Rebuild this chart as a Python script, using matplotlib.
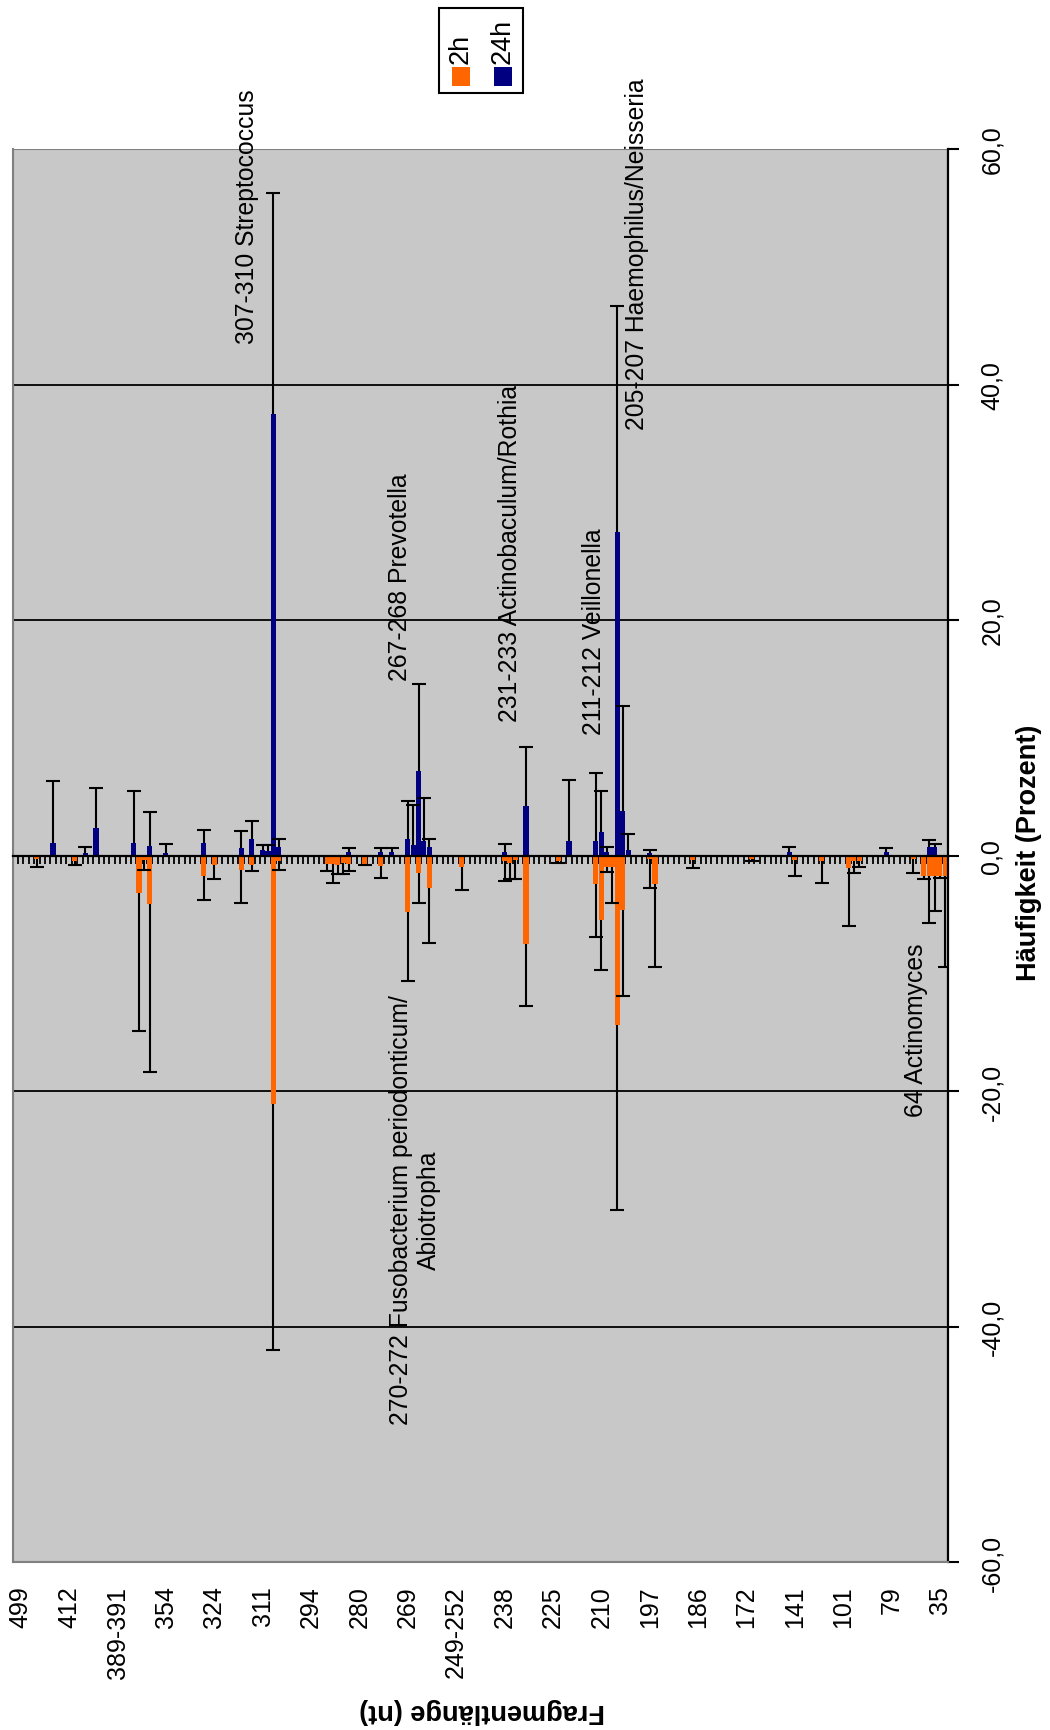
import numpy as np
import matplotlib.pyplot as plt
from matplotlib.patches import Rectangle

plt.rcParams['font.family'] = ['Liberation Sans', 'DejaVu Sans']

# categories (fragment lengths), only every 9th one is labelled
n_cat = 174
tick_idx = list(range(1, n_cat, 9))
tick_names = ['499', '412', '389-391', '354', '324', '311', '294', '280', '269', '249-252',
              '238', '225', '210', '197', '186', '172', '141', '101', '79', '35']

# 24h series: category index, value (%), upper error
idx_24h = [7, 13, 15, 22, 25, 28, 35, 42, 44, 46, 47, 48, 49, 62, 68, 70,
           73, 74, 75, 76, 77, 91, 95, 103, 108, 109, 110, 112, 113, 114,
           118, 144, 162, 170, 171]
val_24h = [1.1, 0.2, 2.3, 1.1, 0.8, 0.2, 1.1, 0.6, 1.4, 0.5, 0.4, 37.5, 0.7, 0.3, 0.3, 0.3,
           1.4, 0.9, 7.2, 1.2, 0.7, 0.3, 4.2, 1.2, 1.2, 2.0, 0.3, 27.5, 3.8, 0.5,
           0.2, 0.3, 0.3, 0.7, 0.7]
err_24h = [5.2, 0.5, 3.4, 4.4, 2.9, 0.8, 1.1, 1.5, 1.5, 0.4, 0.5, 18.8, 0.7, 0.3, 0.3, 0.3,
           3.2, 3.4, 7.4, 3.7, 0.7, 0.7, 5.0, 5.2, 5.8, 3.5, 0.4, 19.2, 8.9, 1.3,
           0.3, 0.4, 0.3, 0.6, 0.3]

# 2h series: category index, value (%, plotted negative), lower error
idx_2h = [4, 11, 23, 24, 25, 35, 37, 42, 44, 48, 49, 58, 59, 60, 61, 62, 65, 68,
          73, 75, 77, 83, 91, 92, 93, 95, 101, 108, 109, 110, 111, 112, 113,
          118, 119, 126, 137, 145, 150, 155, 156, 157, 167, 169, 170, 171, 172, 173]
val_2h = [-0.3, -0.5, -3.2, -0.4, -4.1, -1.7, -0.8, -1.2, -0.8, -21.1, -0.5, -0.7, -0.7, -0.8, -0.6, -0.7, -0.7, -0.9,
          -4.8, -1.5, -2.8, -1.0, -0.5, -0.6, -0.4, -7.5, -0.5, -2.4, -5.5, -1.0, -1.0, -14.4, -4.6,
          -0.3, -2.4, -0.4, -0.3, -0.4, -0.5, -1.1, -0.5, -0.5, -0.3, -1.7, -1.7, -1.7, -1.7, -1.7]
err_2h = [0.7, 0.3, 11.7, 0.8, 14.3, 2.1, 1.2, 2.8, 0.5, 20.9, 0.7, 0.6, 1.6, 0.8, 1.0, 0.6, 0.1, 1.0,
          5.9, 2.5, 4.6, 1.9, 1.7, 1.4, 1.6, 5.3, 0.1, 4.5, 4.2, 0.4, 3.0, 15.7, 7.3,
          2.5, 7.1, 0.7, 0.2, 1.3, 1.8, 4.9, 1.0, 0.5, 1.2, 0.3, 4.0, 3.0, 0.2, 7.8]

# labelled peaks: category index, value position, text
peak_idx = [43.1, 115.6, 71.6, 92.1, 107.7, 74.3, 167.6]
peak_pos = [43.5, 36.2, 14.9, 11.4, 10.3, -48.3, -22.1]
peak_txt = ['307-310 Streptococcus', '205-207 Haemophilus/Neisseria', '267-268 Prevotella',
            '231-233 Actinobaculum/Rothia', '211-212 Veillonella',
            '270-272 Fusobacterium periodonticum/\nAbiotropha', '64 Actinomyces']

y_ticks = [-60, -40, -20, 0, 20, 40, 60]
grid_vals = [-40, -20, 20, 40]

c_2h = '#FF6600'
c_24h = '#000080'
W, H = 1050, 1731

fig = plt.figure(figsize=(W / 100, H / 100), dpi=100)
ax = fig.add_axes([12.7 / W, 1 - 1563 / H, 935.3 / W, 1413 / H])
ax.set_facecolor('#C8C8C8')
ax.set_xlim(-0.5, n_cat - 0.5)
ax.set_ylim(-60, 60)

for g in grid_vals:
    ax.axhline(g, color='black', lw=1.3, zorder=0.5)

ax.bar(idx_2h, val_2h, width=0.95, color=c_2h, zorder=2, label='2h')
ax.bar(idx_24h, val_24h, width=0.95, color=c_24h, zorder=2, label='24h')

# one-sided error bars with a single cap
v24 = np.array(val_24h); e24 = np.array(err_24h)
v2 = np.array(val_2h); e2 = np.array(err_2h)
ax.vlines(idx_24h, v24, v24 + e24, color='black', lw=1.5, zorder=3)
ax.plot(idx_24h, v24 + e24, ls='none', marker='_', ms=10, mew=1.5, color='black', zorder=3)
ax.vlines(idx_2h, v2 - e2, v2, color='black', lw=1.5, zorder=3)
ax.plot(idx_2h, v2 - e2, ls='none', marker='_', ms=10, mew=1.5, color='black', zorder=3)

for xi, yi, s in zip(peak_idx, peak_pos, peak_txt):
    ax.text(xi, yi, s, rotation=90, ha='center', va='bottom', fontsize=17.8,
            multialignment='center', zorder=4)

# category axis runs along zero, its labels sit below the plot area
ax.spines['top'].set_position(('data', 0))
ax.spines['top'].set_color('black')
ax.spines['top'].set_linewidth(1.6)
ax.spines['top'].set_zorder(3.5)
ax.spines['bottom'].set_color('#808080')
ax.spines['left'].set_color('#808080')
ax.spines['bottom'].set_linewidth(1.5)
ax.spines['left'].set_linewidth(1.5)
ax.add_patch(Rectangle((0, 0), 1, 1, transform=ax.transAxes, fill=False,
                       ec='#808080', lw=1.5, zorder=0.6))
ax.spines['right'].set_color('black')
ax.spines['right'].set_linewidth(1.6)

ax.set_xticks(tick_idx)
ax.set_xticklabels(tick_names, rotation=90, fontsize=18)
ax.set_xticks(np.arange(n_cat + 1) - 0.5, minor=True)
ax.tick_params(axis='x', which='major', bottom=True, top=False, length=0, pad=17)
ax.tick_params(axis='x', which='minor', bottom=False, top=True, direction='in',
               length=6, width=1.3)

ax.set_yticks(y_ticks)
ax.set_yticklabels([('%.1f' % v).replace('.', ',') for v in y_ticks],
                   rotation=90, va='center', fontsize=18)
ax.tick_params(axis='y', left=False, right=True, labelleft=False, labelright=True,
               direction='out', length=8, width=1.5, pad=15)

fig.text(1029 / W, 1 - 853 / H, 'Häufigkeit (Prozent)', rotation=90, ha='center',
         va='center', fontsize=19.5, fontweight='bold')
fig.text(482 / W, 1 - 1711 / H, 'Fragmentlänge (nt)', rotation=180, ha='center',
         va='center', fontsize=19.5, fontweight='bold')

# legend box, drawn turned like the rest of the chart
fig.patches.append(Rectangle((439 / W, 1 - 94 / H), 84 / W, 85 / H, transform=fig.transFigure,
                             fill=False, ec='black', lw=1.5))
for cx, col, name in [(461, c_2h, '2h'), (503, c_24h, '24h')]:
    fig.patches.append(Rectangle(((cx - 9) / W, 1 - 87 / H), 18 / W, 19 / H,
                                 transform=fig.transFigure, fc=col, ec='none'))
    fig.text(cx / W, 1 - 64 / H, name, rotation=90, ha='center', va='bottom', fontsize=19.5)

fig.savefig('out.png', dpi=100)
